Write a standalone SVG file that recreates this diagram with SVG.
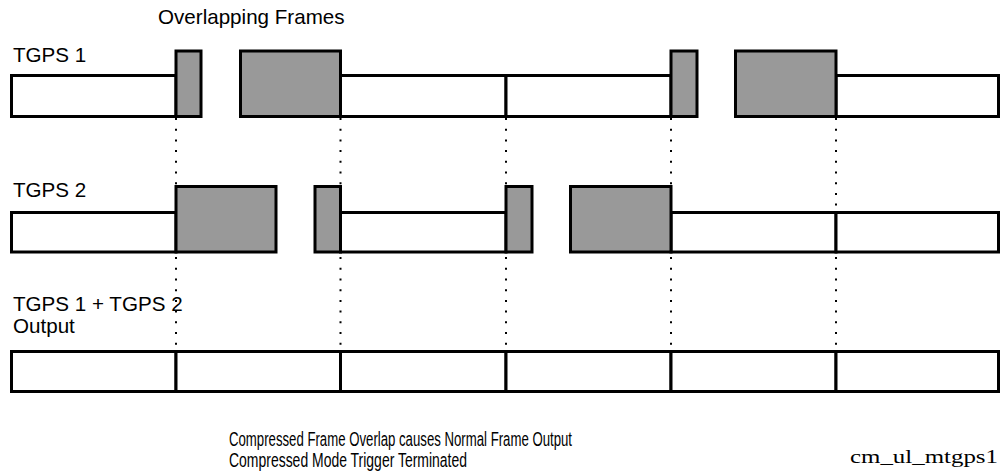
<svg xmlns="http://www.w3.org/2000/svg" width="1000" height="472" viewBox="0 0 1000 472">
<style>
.lbl{font-family:"Liberation Sans",Arial,sans-serif;font-size:20.6px;fill:#000}
.cap{font-family:"Liberation Sans",Arial,sans-serif;font-size:20.5px;fill:#000}
.tag{font-family:"Liberation Serif","Times New Roman",serif;font-size:18.5px;fill:#000}
.w{fill:#fff;stroke:#000;stroke-width:3}
.g{fill:#999;stroke:#000;stroke-width:3}
.dot{stroke:#000;stroke-width:2;stroke-dasharray:2 8.7;fill:none}
</style>
<rect width="1000" height="472" fill="#fff"/>
<g id="connectors">
<line class="dot" x1="176" y1="118" x2="176" y2="350"/>
<line class="dot" x1="340.5" y1="118" x2="340.5" y2="350"/>
<line class="dot" x1="506" y1="118" x2="506" y2="350"/>
<line class="dot" x1="671" y1="118" x2="671" y2="350"/>
<line class="dot" x1="836" y1="118" x2="836" y2="350"/>
</g>
<g id="tgps1">
<text class="lbl" x="13" y="62">TGPS 1</text>
<rect class="w" x="11.5" y="75.5" width="164.5" height="41"/>
<rect class="w" x="340.5" y="75.5" width="165.5" height="41"/>
<rect class="w" x="506" y="75.5" width="165" height="41"/>
<rect class="w" x="836" y="75.5" width="162.5" height="41"/>
<rect class="g" x="176" y="51" width="25" height="65.5"/>
<rect class="g" x="240.5" y="51" width="100" height="65.5"/>
<rect class="g" x="671" y="51" width="26" height="65.5"/>
<rect class="g" x="735.5" y="51" width="100.5" height="65.5"/>
</g>
<g id="tgps2">
<text class="lbl" x="13" y="197">TGPS 2</text>
<rect class="w" x="11.5" y="212.5" width="164.5" height="39.5"/>
<rect class="w" x="340.5" y="212.5" width="165.5" height="39.5"/>
<rect class="w" x="671" y="212.5" width="165" height="39.5"/>
<rect class="w" x="836" y="212.5" width="162.5" height="39.5"/>
<rect class="g" x="176" y="186.5" width="100" height="65.5"/>
<rect class="g" x="315" y="186.5" width="25.5" height="65.5"/>
<rect class="g" x="506" y="186.5" width="26" height="65.5"/>
<rect class="g" x="570.5" y="186.5" width="100.5" height="65.5"/>
</g>
<g id="output">
<text class="lbl" x="13" y="311">TGPS 1 + TGPS 2</text>
<text class="lbl" x="13" y="333">Output</text>
<rect class="w" x="11.5" y="351.5" width="164.5" height="40"/>
<rect class="w" x="176" y="351.5" width="164.5" height="40"/>
<rect class="w" x="340.5" y="351.5" width="165.5" height="40"/>
<rect class="w" x="506" y="351.5" width="165" height="40"/>
<rect class="w" x="671" y="351.5" width="165" height="40"/>
<rect class="w" x="836" y="351.5" width="162.5" height="40"/>
</g>
<g id="captions">
<text class="lbl" x="158" y="24">Overlapping Frames</text>
<text class="cap" x="229" y="446" textLength="343" lengthAdjust="spacingAndGlyphs">Compressed Frame Overlap causes Normal Frame Output</text>
<text class="cap" x="229" y="467" textLength="238" lengthAdjust="spacingAndGlyphs">Compressed Mode Trigger Terminated</text>
<text class="tag" x="850" y="463" textLength="148" lengthAdjust="spacingAndGlyphs">cm_ul_mtgps1</text>
</g>
</svg>
